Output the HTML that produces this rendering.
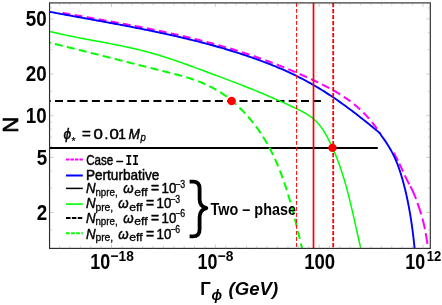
<!DOCTYPE html>
<html><head><meta charset="utf-8"><title>plot</title>
<style>html,body{margin:0;padding:0;background:#fff;overflow:hidden}body{width:442px;height:305px;position:relative;font-family:"Liberation Sans",sans-serif}</style>
</head><body>
<svg width="442" height="305" viewBox="0 0 442 305" style="position:absolute;left:0;top:0;will-change:transform;opacity:0.999">
<rect width="442" height="305" fill="#fff"/>
<defs><clipPath id="c"><rect x="49.55" y="2.9" width="380.75" height="245.5"/></clipPath></defs>
<g clip-path="url(#c)" fill="none">
<line x1="42.7" y1="101.1" x2="320.9" y2="101.1" stroke="#000" stroke-width="2" stroke-dasharray="8 4.3"/>
<line x1="49.55" y1="148" x2="377.8" y2="148" stroke="#000" stroke-width="1.9"/>
<path d="M62.61,12.93 L63.46,13.08 L64.31,13.23 L65.17,13.38 L66.02,13.53 L66.88,13.68 L67.74,13.84 L68.59,13.99 L69.45,14.14 L70.30,14.29 L70.41,14.31 M74.65,15.06 L75.44,15.19 L76.29,15.35 L77.15,15.50 L78.00,15.65 L78.86,15.80 L79.72,15.95 L80.57,16.10 L81.43,16.25 L82.29,16.40 L82.45,16.43 M86.70,17.18 L87.42,17.31 L88.28,17.46 L89.14,17.61 L90.00,17.76 L90.85,17.91 L91.71,18.07 L92.57,18.22 L93.42,18.37 L94.28,18.52 L94.50,18.56 M98.74,19.32 L99.42,19.44 L100.28,19.59 L101.14,19.74 L101.99,19.90 L102.85,20.05 L103.71,20.21 L104.56,20.36 L105.42,20.51 L106.28,20.67 L106.54,20.71 M110.78,21.48 L111.42,21.60 L112.28,21.75 L113.14,21.91 L113.99,22.07 L114.85,22.22 L115.71,22.38 L116.56,22.54 L117.42,22.70 L118.28,22.85 L118.57,22.91 M122.81,23.69 L123.42,23.81 L124.27,23.97 L125.13,24.13 L125.99,24.29 L126.84,24.45 L127.70,24.61 L128.55,24.77 L129.41,24.93 L130.27,25.10 L130.60,25.16 M134.84,25.97 L135.40,26.08 L136.26,26.24 L137.11,26.41 L137.97,26.58 L138.82,26.74 L139.68,26.91 L140.53,27.08 L141.39,27.24 L142.24,27.41 L142.62,27.49 M146.85,28.33 L147.37,28.43 L148.22,28.60 L149.08,28.78 L149.93,28.95 L150.79,29.12 L151.64,29.30 L152.49,29.47 L153.35,29.64 L154.20,29.82 L154.62,29.91 M158.84,30.78 L159.32,30.88 L160.17,31.06 L161.02,31.24 L161.87,31.42 L162.73,31.60 L163.58,31.78 L164.43,31.97 L165.28,32.15 L166.13,32.33 L166.60,32.43 M170.82,33.35 L171.24,33.45 L172.09,33.64 L172.94,33.82 L173.79,34.01 L174.64,34.20 L175.49,34.39 L176.34,34.59 L177.18,34.78 L178.03,34.97 L178.56,35.09 M182.77,36.06 L183.12,36.14 L183.97,36.34 L184.82,36.54 L185.66,36.74 L186.51,36.94 L187.36,37.14 L188.20,37.34 L189.05,37.54 L189.90,37.75 L190.49,37.89 M194.69,38.92 L194.97,38.99 L195.81,39.19 L196.66,39.40 L197.50,39.62 L198.34,39.83 L199.19,40.04 L200.03,40.25 L200.87,40.47 L201.72,40.68 L202.39,40.85 M206.57,41.94 L206.77,41.99 L207.61,42.21 L208.45,42.44 L209.29,42.66 L210.13,42.88 L210.97,43.11 L211.81,43.33 L212.65,43.56 L213.49,43.79 L214.25,44.00 M218.42,45.15 L218.52,45.18 L219.35,45.41 L220.19,45.65 L221.03,45.89 L221.86,46.12 L222.70,46.36 L223.53,46.60 L224.37,46.84 L225.20,47.09 L226.04,47.33 L226.06,47.34 M230.22,48.56 L231.04,48.81 L231.87,49.06 L232.70,49.31 L233.54,49.57 L234.37,49.82 L235.20,50.08 L236.03,50.33 L236.86,50.59 L237.69,50.85 L237.83,50.89 M241.96,52.20 L242.66,52.42 L243.49,52.69 L244.32,52.96 L245.14,53.23 L245.97,53.50 L246.80,53.77 L247.62,54.04 L248.45,54.32 L249.27,54.59 L249.53,54.68 M253.64,56.07 L254.21,56.27 L255.04,56.55 L255.86,56.84 L256.68,57.12 L257.50,57.41 L258.32,57.70 L259.14,57.99 L259.96,58.28 L260.78,58.57 L261.17,58.71 M265.25,60.19 L265.69,60.35 L266.51,60.65 L267.32,60.96 L268.14,61.26 L268.96,61.56 L269.77,61.87 L270.59,62.18 L271.40,62.48 L272.21,62.79 L272.73,62.99 M276.79,64.56 L277.09,64.67 L277.90,64.99 L278.71,65.31 L279.52,65.63 L280.33,65.95 L281.14,66.27 L281.95,66.60 L282.75,66.92 L283.56,67.25 L284.22,67.51 M288.25,69.17 L288.40,69.23 L289.20,69.56 L290.01,69.90 L290.81,70.24 L291.61,70.58 L292.42,70.91 L293.22,71.25 L294.02,71.60 L294.82,71.94 L295.62,72.28 M299.62,74.02 L299.62,74.02 L300.42,74.37 L301.22,74.72 L302.01,75.08 L302.81,75.43 L303.60,75.78 L304.40,76.14 L305.20,76.50 L305.99,76.86 L306.78,77.22 L306.94,77.29 M310.91,79.11 L311.54,79.40 L312.33,79.77 L313.12,80.14 L313.91,80.51 L314.70,80.88 L315.48,81.26 L316.27,81.63 L317.06,82.01 L317.84,82.38 L318.17,82.54 M322.10,84.46 L322.54,84.68 L323.32,85.07 L324.10,85.46 L324.88,85.86 L325.65,86.25 L326.43,86.65 L327.20,87.05 L327.97,87.46 L328.74,87.86 L329.25,88.14 M333.10,90.24 L333.32,90.36 L334.07,90.79 L334.83,91.22 L335.58,91.65 L336.33,92.09 L337.08,92.53 L337.82,92.97 L338.57,93.42 L339.31,93.87 L340.05,94.33 L340.07,94.34 M343.79,96.72 L344.41,97.14 L345.13,97.62 L345.85,98.11 L346.56,98.60 L347.27,99.10 L347.97,99.60 L348.67,100.10 L349.37,100.62 L350.06,101.13 L350.44,101.41 M353.94,104.15 L354.15,104.32 L354.82,104.87 L355.49,105.42 L356.15,105.98 L356.81,106.54 L357.46,107.11 L358.11,107.68 L358.75,108.26 L359.40,108.84 L360.03,109.43 L360.14,109.53 M363.38,112.64 L363.77,113.04 L364.38,113.66 L364.99,114.28 L365.59,114.91 L366.18,115.54 L366.78,116.18 L367.36,116.82 L367.95,117.46 L368.53,118.12 L369.04,118.70 M371.96,122.18 L372.45,122.79 L373.00,123.48 L373.54,124.17 L374.07,124.87 L374.60,125.56 L375.12,126.27 L375.64,126.97 L376.16,127.69 L376.67,128.40 L377.00,128.87 M379.56,132.66 L379.64,132.78 L380.12,133.53" stroke="#ff00ff" stroke-width="2"/>
<path d="M393.80,152.80 L394.19,153.52 L394.57,154.24 L394.95,154.95 L395.33,155.67 L395.71,156.39 L396.08,157.11 L396.45,157.83 L396.82,158.55 L397.18,159.26 L397.54,159.98 L397.90,160.70" stroke="#ff00ff" stroke-width="2"/>
<path d="M399.32,163.60 L399.67,164.32 L400.02,165.04 L400.36,165.75 L400.71,166.47 L401.05,167.19 L401.40,167.91 L401.74,168.63 L402.07,169.35 L402.41,170.06 L402.74,170.78 L403.06,171.50" stroke="#ff00ff" stroke-width="2"/>
<path d="M404.84,175.40 L405.21,176.21 L405.59,177.02 L405.96,177.83 L406.34,178.64 L406.73,179.45 L407.12,180.25 L407.53,181.06 L407.94,181.87 L408.37,182.68 L408.80,183.49 L409.23,184.30" stroke="#ff00ff" stroke-width="2"/>
<path d="M410.31,186.30 L410.93,187.45 L411.53,188.61 L412.12,189.76 L412.68,190.92 L413.21,192.07 L413.71,193.23 L414.20,194.38 L414.67,195.54 L415.13,196.69 L415.59,197.85 L416.03,199.00" stroke="#ff00ff" stroke-width="2"/>
<path d="M417.48,203.00 L417.84,204.04 L418.20,205.07 L418.55,206.11 L418.89,207.15 L419.23,208.18 L419.57,209.22 L419.90,210.25 L420.23,211.29 L420.56,212.33 L420.88,213.36 L421.20,214.40" stroke="#ff00ff" stroke-width="2"/>
<path d="M422.42,218.60 L422.69,219.57 L422.95,220.55 L423.20,221.52 L423.44,222.49 L423.67,223.46 L423.90,224.44 L424.12,225.41 L424.33,226.38 L424.54,227.35 L424.74,228.33 L424.94,229.30" stroke="#ff00ff" stroke-width="2"/>
<path d="M425.68,233.20 L425.85,234.16 L426.02,235.13 L426.19,236.09 L426.36,237.05 L426.52,238.02 L426.68,238.98 L426.83,239.95 L426.98,240.91 L427.12,241.87 L427.26,242.84 L427.40,243.80" stroke="#ff00ff" stroke-width="2"/>
<path d="M49.53,11.77 L51.27,12.10 L53.02,12.43 L54.76,12.75 L56.51,13.08 L58.26,13.41 L60.00,13.73 L61.75,14.06 L63.50,14.38 L65.25,14.70 L67.00,15.03 L68.75,15.35 L70.51,15.67 L72.26,15.99 L74.01,16.31 L75.77,16.63 L77.52,16.95 L79.28,17.27 L81.03,17.59 L82.79,17.91 L84.54,18.23 L86.30,18.54 L88.06,18.86 L89.81,19.18 L91.57,19.50 L93.33,19.82 L95.09,20.14 L96.84,20.46 L98.60,20.78 L100.36,21.10 L102.12,21.43 L103.88,21.75 L105.64,22.07 L107.40,22.40 L109.16,22.72 L110.92,23.05 L112.68,23.37 L114.44,23.70 L116.20,24.03 L117.95,24.36 L119.71,24.69 L121.47,25.02 L123.23,25.35 L124.99,25.68 L126.75,26.02 L128.51,26.36 L130.27,26.69 L132.03,27.03 L133.78,27.38 L135.54,27.72 L137.30,28.06 L139.06,28.41 L140.81,28.76 L142.57,29.11 L144.33,29.46 L146.08,29.81 L147.84,30.17 L149.59,30.53 L151.35,30.89 L153.10,31.25 L154.86,31.61 L156.61,31.98 L158.36,32.35 L160.11,32.72 L161.86,33.10 L163.61,33.47 L165.36,33.85 L167.11,34.23 L168.86,34.62 L170.61,35.01 L172.36,35.40 L174.10,35.79 L175.85,36.19 L177.59,36.58 L179.34,36.99 L181.08,37.39 L182.82,37.80 L184.56,38.21 L186.30,38.63 L188.04,39.05 L189.78,39.47 L191.52,39.89 L193.25,40.32 L194.99,40.75 L196.72,41.19 L198.45,41.63 L200.19,42.07 L201.92,42.52 L203.65,42.97 L205.37,43.43 L207.10,43.89 L208.83,44.35 L210.55,44.82 L212.27,45.29 L214.00,45.77 L215.72,46.25 L217.44,46.73 L219.15,47.22 L220.87,47.71 L222.58,48.21 L224.30,48.71 L226.01,49.22 L227.72,49.73 L229.43,50.25 L231.14,50.77 L232.84,51.30 L234.55,51.83 L236.25,52.36 L237.95,52.90 L239.65,53.45 L241.35,54.00 L243.04,54.56 L244.74,55.12 L246.43,55.69 L248.12,56.26 L249.81,56.84 L251.50,57.42 L253.18,58.01 L254.86,58.60 L256.55,59.20 L258.22,59.81 L259.90,60.42 L261.58,61.04 L263.25,61.66 L264.92,62.29 L266.59,62.93 L268.26,63.57 L269.92,64.22 L271.58,64.88 L273.24,65.54 L274.89,66.21 L276.55,66.89 L278.19,67.58 L279.84,68.27 L281.48,68.97 L283.12,69.68 L284.75,70.40 L286.38,71.13 L288.01,71.87 L289.63,72.61 L291.25,73.37 L292.86,74.13 L294.47,74.91 L296.07,75.69 L297.67,76.49 L299.26,77.29 L300.85,78.10 L302.43,78.93 L304.01,79.76 L305.59,80.61 L307.15,81.46 L308.72,82.32 L310.28,83.19 L311.83,84.07 L313.38,84.96 L314.92,85.86 L316.46,86.77 L318.00,87.68 L319.53,88.61 L321.05,89.54 L322.57,90.48 L324.09,91.43 L325.60,92.39 L327.10,93.35 L328.60,94.33 L330.10,95.31 L331.59,96.30 L333.08,97.29 L334.56,98.30 L336.04,99.31 L337.51,100.33 L338.98,101.35 L340.44,102.38 L341.90,103.42 L343.36,104.47 L344.81,105.52 L346.25,106.57 L347.70,107.64 L349.14,108.70 L350.57,109.78 L352.00,110.85 L353.43,111.94 L354.85,113.02 L356.27,114.12 L357.68,115.21 L359.10,116.31 L360.51,117.41 L361.91,118.52 L363.31,119.63 L364.71,120.75 L366.11,121.86 L367.50,122.98 L368.89,124.11 L370.27,125.23 L371.66,126.36 L373.04,127.49 L374.41,128.62 L375.79,129.75 L377.16,130.88 L378.53,132.02 Q380.3,133.5 381.59,135.99 L382.32,136.96 L383.04,137.93 L383.75,138.91 L384.44,139.89 L385.13,140.88 L385.81,141.88 L386.47,142.88 L387.13,143.88 L387.77,144.90 L388.41,145.91 L389.03,146.94 L389.64,147.96 L390.24,149.00 L390.83,150.03 L391.40,151.08 L391.97,152.13 L392.52,153.18 L393.06,154.24 L393.59,155.31 L394.10,156.38 L394.60,157.46 L395.10,158.54 L395.58,159.63 L396.04,160.72 L396.50,161.81 L396.95,162.91 L397.39,164.02 L397.81,165.13 L398.23,166.24 L398.64,167.36 L399.04,168.48 L399.43,169.60 L399.81,170.73 L400.18,171.86 L400.55,173.00 L400.91,174.13 L401.26,175.27 L401.60,176.41 L401.94,177.56 L402.27,178.70 L402.60,179.85 L402.92,181.00 L403.23,182.15 L403.54,183.31 L403.85,184.46 L404.15,185.62 L404.44,186.78 L404.73,187.93 L405.02,189.09 L405.30,190.26 L405.58,191.42 L405.85,192.58 L406.12,193.75 L406.38,194.91 L406.64,196.08 L406.90,197.25 L407.15,198.41 L407.39,199.58 L407.64,200.76 L407.88,201.93 L408.11,203.10 L408.34,204.27 L408.57,205.45 L408.79,206.62 L409.01,207.80 L409.23,208.97 L409.44,210.15 L409.65,211.33 L409.86,212.51 L410.06,213.68 L410.26,214.86 L410.45,216.04 L410.64,217.22 L410.83,218.41 L411.01,219.59 L411.20,220.77 L411.37,221.95 L411.55,223.13 L411.72,224.31 L411.89,225.50 L412.05,226.68 L412.22,227.86 L412.38,229.05 L412.53,230.23 L412.69,231.41 L412.84,232.60 L412.99,233.78 L413.13,234.96 L413.28,236.15 L413.42,237.33 L413.56,238.52 L413.69,239.70 L413.82,240.88 L413.96,242.06 L414.08,243.25 L414.21,244.43 L414.33,245.61 L414.46,246.79 L414.58,247.98" stroke="#0000ff" stroke-width="1.9" stroke-linejoin="round"/>
<path d="M49.41,31.36 L52.13,32.04 L54.86,32.69 L57.59,33.32 L60.32,33.94 L63.06,34.55 L65.81,35.14 L68.56,35.71 L71.31,36.28 L74.07,36.83 L76.83,37.38 L79.59,37.91 L82.35,38.44 L85.12,38.97 L87.88,39.49 L90.65,40.00 L93.42,40.52 L96.19,41.03 L98.96,41.55 L101.73,42.06 L104.50,42.58 L107.27,43.10 L110.04,43.63 L112.80,44.16 L115.57,44.71 L118.33,45.25 L121.09,45.81 L123.84,46.39 L126.59,46.97 L129.34,47.57 L132.09,48.18 L134.83,48.80 L137.56,49.45 L140.29,50.11 L143.02,50.79 L145.74,51.50 L148.45,52.22 L151.16,52.97 L153.86,53.74 L156.55,54.53 L159.24,55.34 L161.92,56.17 L164.60,57.01 L167.28,57.87 L169.94,58.75 L172.61,59.64 L175.27,60.54 L177.93,61.46 L180.58,62.39 L183.23,63.32 L185.88,64.27 L188.53,65.22 L191.17,66.18 L193.81,67.14 L196.45,68.11 L199.09,69.08 L201.72,70.05 L204.36,71.03 L206.99,72.00 L209.63,72.98 L212.26,73.96 L214.89,74.94 L217.52,75.92 L220.15,76.90 L222.78,77.89 L225.40,78.88 L228.03,79.88 L230.65,80.88 L233.27,81.88 L235.89,82.89 L238.51,83.90 L241.12,84.92 L243.74,85.94 L246.35,86.97 L248.96,88.01 L251.56,89.06 L254.17,90.11 L256.77,91.16 L259.37,92.23 L261.97,93.31 L264.56,94.39 L267.16,95.48 L269.74,96.58 L272.33,97.69 L274.91,98.82 L277.49,99.95 L280.07,101.09 L282.64,102.24 L285.21,103.41 L287.78,104.58 L290.35,105.77 L292.91,106.97 L295.46,108.19 L298.01,109.41 L300.55,110.67 L303.05,111.97 L305.50,113.33 L307.89,114.77 L310.20,116.31 L312.41,117.96 L314.50,119.74 L316.47,121.65 L318.34,123.69 L320.10,125.84 L321.77,128.08 L323.35,130.40 L324.85,132.80 L326.28,135.26 L327.65,137.76 L328.96,140.30 L330.23,142.86 L331.45,145.43 L332.63,148.01 L333.78,150.60 L334.89,153.21 L335.96,155.82 L337.00,158.44 L338.00,161.07 L338.98,163.72 L339.92,166.36 L340.84,169.02 L341.73,171.68 L342.59,174.36 L343.42,177.04 L344.24,179.72 L345.03,182.41 L345.80,185.11 L346.55,187.81 L347.28,190.52 L347.99,193.23 L348.69,195.95 L349.37,198.67 L350.05,201.40 L350.70,204.13 L351.35,206.86 L351.99,209.59 L352.62,212.33 L353.25,215.07 L353.87,217.81 L354.48,220.55 L355.10,223.30 L355.71,226.04 L356.32,228.79 L356.93,231.53 L357.55,234.27 L358.17,237.02 L358.79,239.76 L359.42,242.50 L360.06,245.24 L360.71,247.98" stroke="#00ff00" stroke-width="1.5"/>
<path d="M49.38,42.63 L50.09,42.80 L50.72,42.96 M54.90,43.98 L55.00,44.00 L55.70,44.17 L56.40,44.34 L57.11,44.51 L57.81,44.69 L58.51,44.86 L59.21,45.03 L59.91,45.20 L60.61,45.37 L61.31,45.54 L62.01,45.72 L62.69,45.88 M66.87,46.91 L66.91,46.92 L67.61,47.09 L68.31,47.27 L69.01,47.44 L69.71,47.61 L70.41,47.78 L71.11,47.96 L71.81,48.13 L72.51,48.30 L73.21,48.48 L73.91,48.65 L74.60,48.82 L74.65,48.83 M78.83,49.87 L79.49,50.04 L80.19,50.21 L80.89,50.39 L81.59,50.56 L82.29,50.73 L82.98,50.91 L83.68,51.08 L84.38,51.26 L85.08,51.43 L85.77,51.60 L86.47,51.78 L86.60,51.81 M90.78,52.86 L91.35,53.00 L92.05,53.18 L92.75,53.35 L93.44,53.53 L94.14,53.70 L94.84,53.87 L95.54,54.05 L96.23,54.23 L96.93,54.40 L97.63,54.58 L98.32,54.75 L98.55,54.81 M102.73,55.86 L103.20,55.98 L103.90,56.15 L104.59,56.33 L105.29,56.51 L105.98,56.68 L106.68,56.86 L107.38,57.03 L108.07,57.21 L108.77,57.38 L109.47,57.56 L110.16,57.74 L110.50,57.82 M114.68,58.88 L115.04,58.97 L115.73,59.14 L116.43,59.32 L117.13,59.50 L117.82,59.67 L118.52,59.85 L119.22,60.02 L119.91,60.20 L120.61,60.38 L121.31,60.55 L122.00,60.73 L122.45,60.84 M126.62,61.90 L126.88,61.96 L127.58,62.14 L128.27,62.32 L128.97,62.49 L129.67,62.67 L130.36,62.85 L131.06,63.02 L131.76,63.20 L132.45,63.38 L133.15,63.55 L133.85,63.73 L134.39,63.87 M138.57,64.92 L138.73,64.97 L139.43,65.14 L140.12,65.32 L140.82,65.50 L141.52,65.67 L142.22,65.85 L142.91,66.02 L143.61,66.20 L144.31,66.38 L145.01,66.55 L145.71,66.73 L146.33,66.89 M150.51,67.95 L150.59,67.97 L151.29,68.14 L151.99,68.32 L152.69,68.50 L153.39,68.67 L154.09,68.85 L154.79,69.03 L155.49,69.20 L156.19,69.38 L156.88,69.55 L157.58,69.73 L158.28,69.91 M162.46,70.96 L162.48,70.97 L163.18,71.14 L163.88,71.32 L164.58,71.49 L165.28,71.67 L165.99,71.85 L166.69,72.02 L167.39,72.20 L168.09,72.37 L168.79,72.55 L169.49,72.73 L170.19,72.90 L170.23,72.91 M174.40,73.98 L175.09,74.16 L175.79,74.34 L176.49,74.52 L177.19,74.71 L177.89,74.89 L178.59,75.08 L179.28,75.27 L179.98,75.46 L180.68,75.65 L181.37,75.84 L182.07,76.04 L182.14,76.06 M186.28,77.26 L186.91,77.45 L187.60,77.66 L188.29,77.87 L188.98,78.08 L189.66,78.30 L190.35,78.52 L191.03,78.74 L191.72,78.97 L192.40,79.19 L193.08,79.42 L193.76,79.66 L193.92,79.71 M197.97,81.19 L198.48,81.38 L199.15,81.64 L199.81,81.90 L200.48,82.17 L201.14,82.44 L201.81,82.71 L202.47,82.99 L203.13,83.27 L203.79,83.56 L204.44,83.85 L205.10,84.14 L205.39,84.27 M209.29,86.13 L209.63,86.29 L210.27,86.61 L210.90,86.94 L211.54,87.27 L212.17,87.60 L212.81,87.94 L213.44,88.28 L214.06,88.63 L214.69,88.98 L215.31,89.33 L215.93,89.68 L216.38,89.94 M220.09,92.19 L220.22,92.28 L220.83,92.66 L221.43,93.05 L222.03,93.45 L222.63,93.84 L223.22,94.24 L223.81,94.65 L224.40,95.05 L224.99,95.47 L225.57,95.88 L226.16,96.30 L226.73,96.72 L226.76,96.74 M230.21,99.38 L230.72,99.79 L231.27,100.24 L231.83,100.70 L232.38,101.16 L232.93,101.62 L233.48,102.09 L234.02,102.56 L234.56,103.03 L235.10,103.51 L235.64,103.99 L236.17,104.47 L236.36,104.65 M239.53,107.64 L239.84,107.95 L240.35,108.46 L240.86,108.97 L241.37,109.48 L241.88,110.00 L242.38,110.51 L242.88,111.03 L243.38,111.56 L243.88,112.08 L244.37,112.61 L244.87,113.14 L245.18,113.48 M248.09,116.73 L248.25,116.91 L248.72,117.45 L249.19,118.00 L249.66,118.55 L250.13,119.10 L250.59,119.66 L251.05,120.21 L251.51,120.77 L251.97,121.33 L252.42,121.90 L252.87,122.46 L253.29,122.99 M255.96,126.46 L256.39,127.04 L256.82,127.62 L257.24,128.20 L257.66,128.79 L258.08,129.37 L258.49,129.96 L258.91,130.55 L259.32,131.14 L259.72,131.73 L260.13,132.33 L260.53,132.92 L260.67,133.13 M263.06,136.81 L263.26,137.14 L263.64,137.75 L264.02,138.36 L264.40,138.97 L264.77,139.58 L265.14,140.20 L265.50,140.82 L265.87,141.43 L266.23,142.05 L266.59,142.67 L266.95,143.29 L267.25,143.83 M269.37,147.68 L269.37,147.69 L269.71,148.32 L270.04,148.95 L270.38,149.59 L270.71,150.22 L271.03,150.86 L271.36,151.50 L271.68,152.14 L272.00,152.78 L272.32,153.42 L272.64,154.07 L272.95,154.71 L273.08,154.98 M274.95,158.96 L275.08,159.26 L275.38,159.91 L275.68,160.56 L275.97,161.22 L276.26,161.88 L276.55,162.53 L276.83,163.19 L277.12,163.85 L277.40,164.51 L277.68,165.17 L277.95,165.84 L278.22,166.48 M279.87,170.57 L280.11,171.16 L280.37,171.83 L280.63,172.51 L280.88,173.18 L281.14,173.85 L281.39,174.52 L281.64,175.20 L281.89,175.87 L282.14,176.54 L282.39,177.22 L282.63,177.90 L282.76,178.26 M284.22,182.42 L284.30,182.65 L284.53,183.33 L284.76,184.01 L284.99,184.70 L285.22,185.38 L285.45,186.07 L285.67,186.75 L285.89,187.44 L286.12,188.12 L286.34,188.81 L286.56,189.49 L286.77,190.18 L286.79,190.23 M288.09,194.45 L288.26,195.00 L288.47,195.70 L288.67,196.39 L288.88,197.08 L289.08,197.77 L289.29,198.46 L289.49,199.16 L289.69,199.85 L289.89,200.54 L290.09,201.24 L290.28,201.93 L290.40,202.34 M291.58,206.59 L291.64,206.80 L291.83,207.49 L292.02,208.19 L292.21,208.89 L292.39,209.59 L292.58,210.28 L292.77,210.98 L292.95,211.68 L293.13,212.38 L293.32,213.07 L293.50,213.77 L293.68,214.47 L293.70,214.54 M294.80,218.82 L294.94,219.36 L295.11,220.06 L295.29,220.76 L295.46,221.46 L295.64,222.16 L295.81,222.85 L295.99,223.55 L296.16,224.25 L296.34,224.95 L296.51,225.65 L296.68,226.35 L296.79,226.80 M297.85,231.10 L297.88,231.24 L298.05,231.94 L298.22,232.63 L298.39,233.33 L298.56,234.03 L298.73,234.73 L298.90,235.42 L299.07,236.12 L299.23,236.82 L299.40,237.51 L299.57,238.21 L299.74,238.91 L299.78,239.09 M300.83,243.39 L300.92,243.77 L301.09,244.47 L301.26,245.16 L301.42,245.85 L301.59,246.55 L301.76,247.24 L301.93,247.93" stroke="#00ff00" stroke-width="2"/>
<line x1="296.6" y1="2.9" x2="296.6" y2="248.4" stroke="#ff0000" stroke-width="1" stroke-dasharray="4 2"/>
<line x1="313.5" y1="2.9" x2="313.5" y2="248.4" stroke="#ff0000" stroke-width="1.7"/>
<line x1="333.2" y1="2.9" x2="333.2" y2="248.4" stroke="#ff0000" stroke-width="1.8" stroke-dasharray="4.4 1.6"/>
</g>
<circle cx="231.6" cy="101.0" r="4.2" fill="#ff0000"/>
<circle cx="332.5" cy="147.9" r="4.2" fill="#ff0000"/>
<rect x="49.55" y="2.9" width="380.75" height="245.5" fill="none" stroke="#2a2a2a" stroke-width="1.15"/>
<path d="M49.55,212.51h4 M430.3,212.51h-4 M49.55,157.39h4 M430.3,157.39h-4 M49.55,115.70h4 M430.3,115.70h-4 M49.55,74.01h4 M430.3,74.01h-4 M49.55,18.89h4 M430.3,18.89h-4 M49.55,229.81h2.4 M430.3,229.81h-2.4 M49.55,188.12h2.4 M430.3,188.12h-2.4 M49.55,170.81h2.4 M430.3,170.81h-2.4 M49.55,146.43h2.4 M430.3,146.43h-2.4 M49.55,137.15h2.4 M430.3,137.15h-2.4 M49.55,129.12h2.4 M430.3,129.12h-2.4 M49.55,122.04h2.4 M430.3,122.04h-2.4 M49.55,91.31h2.4 M430.3,91.31h-2.4 M49.55,49.62h2.4 M430.3,49.62h-2.4 M49.55,32.31h2.4 M430.3,32.31h-2.4 M49.55,7.93h2.4 M430.3,7.93h-2.4 M59.60,248.4v-2.4 M59.60,2.9v2.4 M69.98,248.4v-2.4 M69.98,2.9v2.4 M80.36,248.4v-2.4 M80.36,2.9v2.4 M90.74,248.4v-2.4 M90.74,2.9v2.4 M101.12,248.4v-2.4 M101.12,2.9v2.4 M111.50,248.4v-4 M111.50,2.9v4 M121.88,248.4v-2.4 M121.88,2.9v2.4 M132.26,248.4v-2.4 M132.26,2.9v2.4 M142.64,248.4v-2.4 M142.64,2.9v2.4 M153.02,248.4v-2.4 M153.02,2.9v2.4 M163.40,248.4v-2.4 M163.40,2.9v2.4 M173.78,248.4v-2.4 M173.78,2.9v2.4 M184.16,248.4v-2.4 M184.16,2.9v2.4 M194.54,248.4v-2.4 M194.54,2.9v2.4 M204.92,248.4v-2.4 M204.92,2.9v2.4 M215.30,248.4v-4 M215.30,2.9v4 M225.68,248.4v-2.4 M225.68,2.9v2.4 M236.06,248.4v-2.4 M236.06,2.9v2.4 M246.44,248.4v-2.4 M246.44,2.9v2.4 M256.82,248.4v-2.4 M256.82,2.9v2.4 M267.20,248.4v-2.4 M267.20,2.9v2.4 M277.58,248.4v-2.4 M277.58,2.9v2.4 M287.96,248.4v-2.4 M287.96,2.9v2.4 M298.34,248.4v-2.4 M298.34,2.9v2.4 M308.72,248.4v-2.4 M308.72,2.9v2.4 M319.10,248.4v-4 M319.10,2.9v4 M329.48,248.4v-2.4 M329.48,2.9v2.4 M339.86,248.4v-2.4 M339.86,2.9v2.4 M350.24,248.4v-2.4 M350.24,2.9v2.4 M360.62,248.4v-2.4 M360.62,2.9v2.4 M371.00,248.4v-2.4 M371.00,2.9v2.4 M381.38,248.4v-2.4 M381.38,2.9v2.4 M391.76,248.4v-2.4 M391.76,2.9v2.4 M402.14,248.4v-2.4 M402.14,2.9v2.4 M412.52,248.4v-2.4 M412.52,2.9v2.4 M422.90,248.4v-4 M422.90,2.9v4" stroke="#999" stroke-width="0.5" fill="none"/>
<text transform="translate(46.6,26.2) scale(0.8772,1)" font-family="Liberation Sans, sans-serif" font-size="21.43" font-weight="bold" text-anchor="end" >50</text>
<text transform="translate(46.6,81.2) scale(0.8772,1)" font-family="Liberation Sans, sans-serif" font-size="21.43" font-weight="bold" text-anchor="end" >20</text>
<text transform="translate(46.6,123.0) scale(0.8772,1)" font-family="Liberation Sans, sans-serif" font-size="21.43" font-weight="bold" text-anchor="end" >10</text>
<text transform="translate(47.3,164.8) scale(0.8772,1)" font-family="Liberation Sans, sans-serif" font-size="21.43" font-weight="bold" text-anchor="end" >5</text>
<text transform="translate(47.3,219.9) scale(0.8772,1)" font-family="Liberation Sans, sans-serif" font-size="21.43" font-weight="bold" text-anchor="end" >2</text>
<text transform="translate(90.2,269.4) scale(0.8772,1)" font-family="Liberation Sans, sans-serif" font-size="21.43" font-weight="bold" textLength="22.69" lengthAdjust="spacingAndGlyphs" >10</text>
<text transform="translate(110.5,260.8) scale(0.8772,1)" font-family="Liberation Sans, sans-serif" font-size="14.82" font-weight="bold" textLength="26.56" lengthAdjust="spacingAndGlyphs" >−18</text>
<text transform="translate(197.5,269.4) scale(0.8772,1)" font-family="Liberation Sans, sans-serif" font-size="21.43" font-weight="bold" textLength="22.69" lengthAdjust="spacingAndGlyphs" >10</text>
<text transform="translate(217.8,260.8) scale(0.8772,1)" font-family="Liberation Sans, sans-serif" font-size="14.82" font-weight="bold" textLength="17.90" lengthAdjust="spacingAndGlyphs" >−8</text>
<text transform="translate(304.2,269.4) scale(0.8772,1)" font-family="Liberation Sans, sans-serif" font-size="21.43" font-weight="bold" textLength="35.34" lengthAdjust="spacingAndGlyphs" >100</text>
<text transform="translate(405.2,269.4) scale(0.8772,1)" font-family="Liberation Sans, sans-serif" font-size="21.43" font-weight="bold" textLength="22.69" lengthAdjust="spacingAndGlyphs" >10</text>
<text transform="translate(426.8,260.8) scale(0.8772,1)" font-family="Liberation Sans, sans-serif" font-size="14.82" font-weight="bold" >12</text>
<text transform="translate(17.9,124.8) rotate(-90)" text-anchor="middle" font-family="Liberation Sans, sans-serif" font-size="22" stroke="#000" stroke-width="0.7">N</text>
<text transform="translate(200.2,295.4) scale(0.9709,1)" font-family="Liberation Sans, sans-serif" font-size="17.92" font-weight="bold" >Γ</text>
<text transform="translate(211.6,299.6) scale(0.9709,1)" font-family="Liberation Sans, sans-serif" font-size="14.42" font-weight="bold" font-style="italic" >ϕ</text>
<text transform="translate(228.6,295.4) scale(0.9709,1)" font-family="Liberation Sans, sans-serif" font-size="17.72" font-weight="bold" font-style="italic" textLength="51.09" lengthAdjust="spacingAndGlyphs" >(GeV)</text>
<text transform="translate(63.6,138.7) scale(0.9434,1)" font-family="Liberation Sans, sans-serif" font-size="14.42" font-style="italic" stroke="#000" stroke-width="0.5" >ϕ</text>
<text transform="translate(71.4,144.6) scale(0.9434,1)" font-family="Liberation Sans, sans-serif" font-size="11.13" stroke="#000" stroke-width="0.2" >*</text>
<text transform="translate(82.0,138.7) scale(0.9434,1)" font-family="Liberation Sans, sans-serif" font-size="14.42" textLength="9.33" lengthAdjust="spacingAndGlyphs" stroke="#000" stroke-width="0.5" >=</text>
<text transform="translate(93.5,138.7) scale(0.9434,1)" font-family="Liberation Sans, sans-serif" font-size="14.63" textLength="9.96" lengthAdjust="spacingAndGlyphs" stroke="#000" stroke-width="0.5" >0</text>
<text transform="translate(104.6,138.7) scale(0.9434,1)" font-family="Liberation Sans, sans-serif" font-size="14.63" stroke="#000" stroke-width="0.5" >.</text>
<text transform="translate(109.4,138.7) scale(0.9434,1)" font-family="Liberation Sans, sans-serif" font-size="14.63" textLength="9.96" lengthAdjust="spacingAndGlyphs" stroke="#000" stroke-width="0.5" >0</text>
<text transform="translate(118.2,138.7) scale(0.9434,1)" font-family="Liberation Sans, sans-serif" font-size="14.63" stroke="#000" stroke-width="0.5" >1</text>
<text transform="translate(128.4,138.7) scale(0.9434,1)" font-family="Liberation Sans, sans-serif" font-size="14.42" font-style="italic" stroke="#000" stroke-width="0.5" >M</text>
<text transform="translate(140.4,141.2) scale(0.9434,1)" font-family="Liberation Sans, sans-serif" font-size="10.18" font-style="italic" stroke="#000" stroke-width="0.3" >p</text>
<line x1="66" y1="159.6" x2="82.8" y2="159.6" stroke="#ff00ff" stroke-width="2" stroke-dasharray="3.5 0.95"/>
<line x1="66" y1="175.5" x2="82.8" y2="175.5" stroke="#0000ff" stroke-width="2"/>
<line x1="66" y1="188.4" x2="82.8" y2="188.4" stroke="#000" stroke-width="1.5"/>
<line x1="66" y1="204.1" x2="82.8" y2="204.1" stroke="#00ff00" stroke-width="1.6"/>
<line x1="66" y1="218.0" x2="82.8" y2="218.0" stroke="#000" stroke-width="1.8" stroke-dasharray="4.5 1.4"/>
<line x1="66" y1="233.2" x2="82.8" y2="233.2" stroke="#00ff00" stroke-width="2" stroke-dasharray="3.7 1.4"/>
<text transform="translate(86.2,164.5) scale(0.8772,1)" font-family="Liberation Sans, sans-serif" font-size="15.16" textLength="41.95" lengthAdjust="spacingAndGlyphs" stroke="#000" stroke-width="0.5" >Case –</text>
<text transform="translate(125.6,164.5) scale(0.8772,1)" font-family="Liberation Mono, monospace" font-size="15.50" font-weight="bold" textLength="15.05" lengthAdjust="spacingAndGlyphs" >II</text>
<text transform="translate(85.9,179.9) scale(0.8772,1)" font-family="Liberation Sans, sans-serif" font-size="15.16" textLength="83.68" lengthAdjust="spacingAndGlyphs" stroke="#000" stroke-width="0.5" >Perturbative</text>
<text transform="translate(86.0,193.4) scale(0.8772,1)" font-family="Liberation Sans, sans-serif" font-size="15.16" font-style="italic" stroke="#000" stroke-width="0.5" >N</text>
<text transform="translate(95.4,196.0) scale(0.8772,1)" font-family="Liberation Sans, sans-serif" font-size="10.60" textLength="25.42" lengthAdjust="spacingAndGlyphs" stroke="#000" stroke-width="0.3" >npre,</text>
<text transform="translate(123.2,193.4) scale(0.8772,1)" font-family="Liberation Sans, sans-serif" font-size="15.16" font-style="italic" stroke="#000" stroke-width="0.5" >ω</text>
<text transform="translate(134.2,196.0) scale(0.8772,1)" font-family="Liberation Sans, sans-serif" font-size="10.94" textLength="15.28" lengthAdjust="spacingAndGlyphs" stroke="#000" stroke-width="0.3" >eff</text>
<text transform="translate(151.0,193.4) scale(0.8772,1)" font-family="Liberation Sans, sans-serif" font-size="15.16" textLength="9.23" lengthAdjust="spacingAndGlyphs" stroke="#000" stroke-width="0.5" >=</text>
<text transform="translate(161.5,193.4) scale(0.8772,1)" font-family="Liberation Sans, sans-serif" font-size="15.16" stroke="#000" stroke-width="0.5" >10</text>
<text transform="translate(175.2,187.5) scale(0.8772,1)" font-family="Liberation Sans, sans-serif" font-size="10.49" textLength="11.40" lengthAdjust="spacingAndGlyphs" stroke="#000" stroke-width="0.3" >−3</text>
<text transform="translate(86.0,208.4) scale(0.8772,1)" font-family="Liberation Sans, sans-serif" font-size="15.16" font-style="italic" stroke="#000" stroke-width="0.5" >N</text>
<text transform="translate(95.4,211.0) scale(0.8772,1)" font-family="Liberation Sans, sans-serif" font-size="10.60" textLength="20.29" lengthAdjust="spacingAndGlyphs" stroke="#000" stroke-width="0.3" >pre,</text>
<text transform="translate(118.2,208.4) scale(0.8772,1)" font-family="Liberation Sans, sans-serif" font-size="15.16" font-style="italic" stroke="#000" stroke-width="0.5" >ω</text>
<text transform="translate(129.2,211.0) scale(0.8772,1)" font-family="Liberation Sans, sans-serif" font-size="10.94" textLength="15.28" lengthAdjust="spacingAndGlyphs" stroke="#000" stroke-width="0.3" >eff</text>
<text transform="translate(146.0,208.4) scale(0.8772,1)" font-family="Liberation Sans, sans-serif" font-size="15.16" textLength="9.23" lengthAdjust="spacingAndGlyphs" stroke="#000" stroke-width="0.5" >=</text>
<text transform="translate(156.5,208.4) scale(0.8772,1)" font-family="Liberation Sans, sans-serif" font-size="15.16" stroke="#000" stroke-width="0.5" >10</text>
<text transform="translate(170.2,202.5) scale(0.8772,1)" font-family="Liberation Sans, sans-serif" font-size="10.49" textLength="11.40" lengthAdjust="spacingAndGlyphs" stroke="#000" stroke-width="0.3" >−3</text>
<text transform="translate(86.0,222.7) scale(0.8772,1)" font-family="Liberation Sans, sans-serif" font-size="15.16" font-style="italic" stroke="#000" stroke-width="0.5" >N</text>
<text transform="translate(95.4,225.29999999999998) scale(0.8772,1)" font-family="Liberation Sans, sans-serif" font-size="10.60" textLength="25.42" lengthAdjust="spacingAndGlyphs" stroke="#000" stroke-width="0.3" >npre,</text>
<text transform="translate(123.2,222.7) scale(0.8772,1)" font-family="Liberation Sans, sans-serif" font-size="15.16" font-style="italic" stroke="#000" stroke-width="0.5" >ω</text>
<text transform="translate(134.2,225.29999999999998) scale(0.8772,1)" font-family="Liberation Sans, sans-serif" font-size="10.94" textLength="15.28" lengthAdjust="spacingAndGlyphs" stroke="#000" stroke-width="0.3" >eff</text>
<text transform="translate(151.0,222.7) scale(0.8772,1)" font-family="Liberation Sans, sans-serif" font-size="15.16" textLength="9.23" lengthAdjust="spacingAndGlyphs" stroke="#000" stroke-width="0.5" >=</text>
<text transform="translate(161.5,222.7) scale(0.8772,1)" font-family="Liberation Sans, sans-serif" font-size="15.16" stroke="#000" stroke-width="0.5" >10</text>
<text transform="translate(175.2,216.79999999999998) scale(0.8772,1)" font-family="Liberation Sans, sans-serif" font-size="10.49" textLength="11.40" lengthAdjust="spacingAndGlyphs" stroke="#000" stroke-width="0.3" >−6</text>
<text transform="translate(86.0,238.6) scale(0.8772,1)" font-family="Liberation Sans, sans-serif" font-size="15.16" font-style="italic" stroke="#000" stroke-width="0.5" >N</text>
<text transform="translate(95.4,241.2) scale(0.8772,1)" font-family="Liberation Sans, sans-serif" font-size="10.60" textLength="20.29" lengthAdjust="spacingAndGlyphs" stroke="#000" stroke-width="0.3" >pre,</text>
<text transform="translate(118.2,238.6) scale(0.8772,1)" font-family="Liberation Sans, sans-serif" font-size="15.16" font-style="italic" stroke="#000" stroke-width="0.5" >ω</text>
<text transform="translate(129.2,241.2) scale(0.8772,1)" font-family="Liberation Sans, sans-serif" font-size="10.94" textLength="15.28" lengthAdjust="spacingAndGlyphs" stroke="#000" stroke-width="0.3" >eff</text>
<text transform="translate(146.0,238.6) scale(0.8772,1)" font-family="Liberation Sans, sans-serif" font-size="15.16" textLength="9.23" lengthAdjust="spacingAndGlyphs" stroke="#000" stroke-width="0.5" >=</text>
<text transform="translate(156.5,238.6) scale(0.8772,1)" font-family="Liberation Sans, sans-serif" font-size="15.16" stroke="#000" stroke-width="0.5" >10</text>
<text transform="translate(170.2,232.7) scale(0.8772,1)" font-family="Liberation Sans, sans-serif" font-size="10.49" textLength="11.40" lengthAdjust="spacingAndGlyphs" stroke="#000" stroke-width="0.3" >−6</text>
<path d="M189.6,181.6 L193,181.6 Q199.6,181.6 199.6,188.5 L199.6,199 Q199.6,206.3 206.3,208.2 Q199.6,210.1 199.6,217.5 L199.6,229.5 Q199.6,236.4 193,236.4 L189.6,236.4" fill="none" stroke="#000" stroke-width="3.8" stroke-linejoin="round"/>
<text transform="translate(210.6,214.8) scale(0.9434,1)" font-family="Liberation Sans, sans-serif" font-size="15.69" font-weight="bold" textLength="90.52" lengthAdjust="spacingAndGlyphs" >Two – phase</text>
</svg>
</body></html>
